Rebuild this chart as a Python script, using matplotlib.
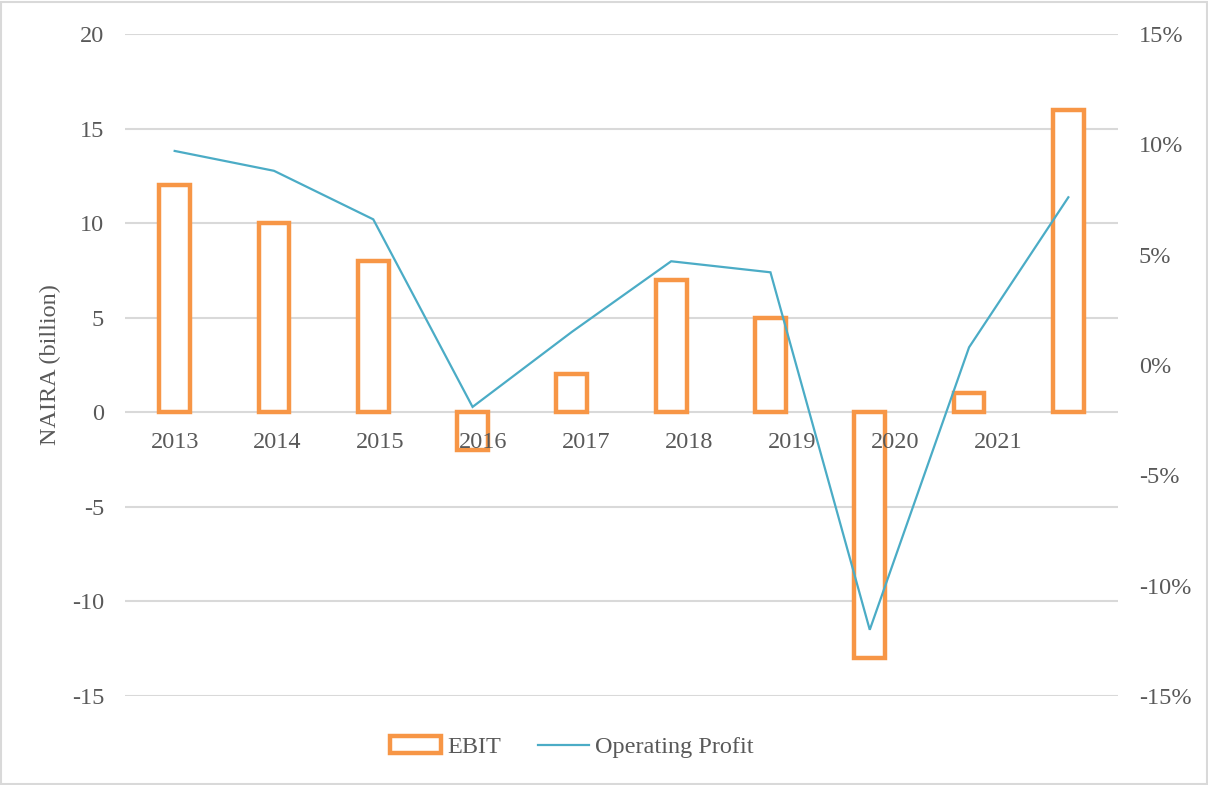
import matplotlib
matplotlib.use("Agg")
import matplotlib.pyplot as plt
import numpy as np
from matplotlib.patches import Rectangle

# ---- data ----
year_labels = ["2013", "2014", "2015", "2016", "2017", "2018", "2019", "2020", "2021"]
ebit = [12, 10, 8, -2, 2, 7, 5, -13, 1, 16]                 # NAIRA billion
op_profit = [9.7, 8.8, 6.6, -1.9, 1.5, 4.7, 4.2, -12.0, 0.8, 7.6]  # percent
left_ticks = [-15, -10, -5, 0, 5, 10, 15, 20]
right_ticks = [-15, -10, -5, 0, 5, 10, 15]

# ---- style ----
ORANGE = "#F79646"
TEAL = "#4BACC6"
GRID = "#D9D9D9"
TXT = "#595959"
plt.rcParams['font.family'] = ['Liberation Serif', 'DejaVu Serif']
FS = 17.5

fig = plt.figure(figsize=(12.08, 7.85), dpi=100)
ax = fig.add_axes([0.1035, 0.1134, 0.822, 0.8433])

n = len(ebit)
x = np.arange(n)
ax.bar(x, ebit, width=0.31, facecolor="white", edgecolor=ORANGE,
       linewidth=3.2, zorder=3, label="EBIT")
ax.set_xlim(-0.5, n - 0.5)
ax.set_ylim(-15, 20)
ax.set_yticks(left_ticks)
ax.set_yticklabels([str(t) for t in left_ticks])
ax.grid(axis='y', color=GRID, linewidth=1.5, zorder=0)
ax.set_axisbelow(True)
for s in ax.spines.values():
    s.set_visible(False)

# category labels along the zero line (their own, slightly wider spacing as in the reference)
label_step = 102.8 / 99.2
ax.set_xticks([])
for i, lab in enumerate(year_labels):
    ax.annotate(lab, xy=(i * label_step, 0), xytext=(0, -21.5), textcoords='offset points',
                ha='center', va='center', fontsize=FS, color=TXT, zorder=6,
                annotation_clip=False)
ax.tick_params(axis='y', length=0, pad=15, labelsize=FS, labelcolor=TXT)
ax.set_ylabel("NAIRA (billion)", fontsize=FS, color=TXT, labelpad=8)

ax2 = ax.twinx()
ax2.plot(x, op_profit, color=TEAL, linewidth=1.6, label="Operating Profit",
         solid_joinstyle='miter')
ax2.set_ylim(-15, 15)
ax2.set_yticks(right_ticks)
ax2.set_yticklabels([f"{t}%" for t in right_ticks])
ax2.tick_params(axis='y', length=0, pad=15, labelsize=FS, labelcolor=TXT)
for s in ax2.spines.values():
    s.set_visible(False)

h1, l1 = ax.get_legend_handles_labels()
h2, l2 = ax2.get_legend_handles_labels()
leg = fig.legend(h1 + h2, l1 + l2, loc='center', bbox_to_anchor=(0.4735, 0.0484),
                 ncol=2, frameon=False, fontsize=FS, handlelength=2.1,
                 handletextpad=0.25, columnspacing=1.5)
for t in leg.get_texts():
    t.set_color(TXT)

fig.patches.append(Rectangle((0.001, 0.001), 0.998, 0.997, transform=fig.transFigure,
                             fill=False, edgecolor=GRID, linewidth=1.5))

fig.savefig("out.png", dpi=100)
